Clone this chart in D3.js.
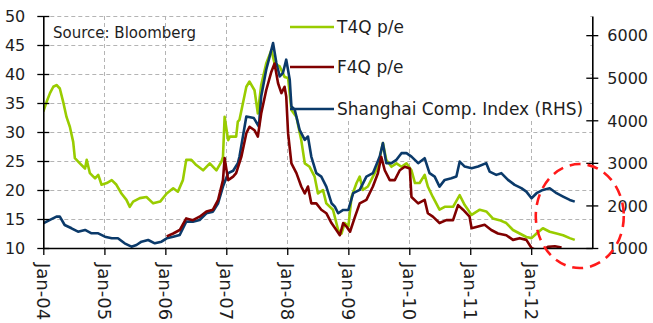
<!DOCTYPE html>
<html>
<head>
<meta charset="utf-8">
<script src="https://cdn.jsdelivr.net/npm/d3@7"></script>
<style>
  html, body { margin: 0; padding: 0; background: #fff; }
  svg { display: block; font-family: "DejaVu Sans", Verdana, sans-serif; }
</style>
</head>
<body>
<svg id="chart" width="653" height="323"></svg>
<script>
// ---------------- DATA ----------------
const leftTicks = [10, 15, 20, 25, 30, 35, 40, 45, 50];
const rightTicks = [1000, 2000, 3000, 4000, 5000, 6000];
const yearTicks = ["2004-01-01","2005-01-01","2006-01-01","2007-01-01","2008-01-01","2009-01-01","2010-01-01","2011-01-01","2012-01-01"];
const seriesNames = ["T4Q p/e", "F4Q p/e", "Shanghai Comp. Index (RHS)"];
const sourceNote = "Source: Bloomberg";

const t4qDates = ["2004-01-01","2004-01-21","2004-02-10","2004-03-01","2004-03-20","2004-04-09","2004-04-29","2004-05-19","2004-06-08","2004-06-28","2004-07-08","2004-08-07","2004-09-07","2004-09-17","2004-10-06","2004-11-06","2004-11-25","2004-12-15","2005-01-15","2005-02-14","2005-03-14","2005-04-13","2005-05-13","2005-06-02","2005-06-22","2005-08-01","2005-09-10","2005-10-20","2005-12-01","2006-01-09","2006-02-17","2006-03-17","2006-04-16","2006-05-06","2006-06-06","2006-07-05","2006-08-15","2006-09-24","2006-11-03","2006-12-03","2006-12-12","2006-12-22","2007-01-12","2007-01-22","2007-02-11","2007-03-01","2007-03-11","2007-03-21","2007-05-01","2007-05-20","2007-06-19","2007-07-09","2007-07-29","2007-08-28","2007-09-28","2007-10-17","2007-11-17","2007-12-16","2008-01-06","2008-01-26","2008-02-25","2008-03-25","2008-04-15","2008-05-14","2008-06-13","2008-07-03","2008-08-02","2008-08-22","2008-10-01","2008-11-01","2008-11-21","2008-12-10","2009-01-01","2009-01-20","2009-02-19","2009-03-10","2009-03-29","2009-04-28","2009-05-28","2009-06-27","2009-07-27","2009-08-16","2009-09-16","2009-10-16","2009-11-15","2009-12-15","2010-01-14","2010-02-04","2010-03-04","2010-04-03","2010-04-22","2010-05-22","2010-07-01","2010-08-01","2010-09-20","2010-10-30","2010-11-29","2011-01-09","2011-02-27","2011-04-07","2011-05-16","2011-06-25","2011-08-05","2011-09-14","2011-10-24","2011-12-03","2012-01-03","2012-02-02","2012-03-11","2012-04-21","2012-06-01","2012-07-10","2012-08-19","2012-09-18"];
const t4qValues = [33.5,35.2,36.7,37.8,38.1,37.5,35.2,32.6,30.9,28.3,25.5,24.6,23.7,25.2,22.9,22.0,22.6,20.9,21.2,21.7,20.9,19.4,18.3,17.1,18.0,18.6,18.8,17.7,18.0,19.4,20.3,19.7,21.7,25.2,25.2,24.3,23.4,24.6,23.4,24.9,25.7,32.6,28.6,29.2,29.2,29.2,31.8,32.1,37.8,38.7,37.2,33.2,38.1,41.8,44.1,41.8,41.3,39.5,39.3,33.8,32.6,28.6,24.6,24.0,22.3,19.4,20.0,17.7,16.6,13.1,12.5,14.3,13.7,18.8,21.2,22.3,20.0,20.6,22.3,24.0,28.1,25.2,24.0,24.6,24.0,24.6,23.4,21.2,21.2,22.6,20.6,18.8,16.6,17.1,17.1,19.1,17.4,15.7,16.6,16.3,15.1,14.8,14.3,13.1,12.5,11.9,11.7,12.5,13.4,12.8,12.5,12.2,11.7,11.4];

const f4qDates = ["2006-01-09","2006-02-17","2006-03-28","2006-05-06","2006-06-15","2006-07-25","2006-09-04","2006-10-13","2006-11-13","2006-12-12","2006-12-22","2007-01-12","2007-02-11","2007-03-01","2007-04-01","2007-05-01","2007-05-20","2007-06-19","2007-07-09","2007-07-29","2007-08-28","2007-09-28","2007-10-17","2007-11-07","2007-11-27","2007-12-16","2007-12-26","2008-01-06","2008-01-26","2008-02-25","2008-03-25","2008-04-15","2008-05-04","2008-05-24","2008-06-23","2008-07-23","2008-08-22","2008-09-22","2008-10-21","2008-11-11","2008-12-01","2008-12-21","2009-01-11","2009-02-10","2009-03-10","2009-04-19","2009-05-28","2009-06-27","2009-07-17","2009-08-07","2009-09-06","2009-10-06","2009-11-05","2009-12-05","2010-01-04","2010-01-14","2010-02-23","2010-04-03","2010-04-22","2010-05-22","2010-07-01","2010-08-11","2010-09-20","2010-10-20","2010-11-19","2010-12-28","2011-01-09","2011-02-17","2011-03-28","2011-05-07","2011-06-16","2011-08-05","2011-09-14","2011-10-24","2011-12-03","2012-01-03","2012-02-10","2012-03-22","2012-04-10","2012-05-22","2012-07-01"];
const f4qValues = [12.0,12.5,13.1,15.1,14.8,15.4,16.3,16.6,18.3,21.7,25.5,21.7,22.3,22.9,25.7,29.8,30.9,30.3,29.2,33.2,37.2,40.4,41.8,38.4,36.7,37.8,36.1,29.8,24.6,22.9,20.6,19.4,20.6,17.7,17.7,16.6,16.0,14.3,13.1,12.2,14.3,13.7,12.8,15.4,17.7,18.3,20.6,22.9,25.7,23.4,21.7,21.7,23.4,24.0,23.7,18.8,17.7,18.3,16.0,15.4,14.3,14.8,14.8,17.4,16.6,15.4,13.4,13.7,14.0,13.1,12.5,12.2,11.4,11.7,11.4,10.0,9.5,9.8,10.2,10.3,10.1];

const shDates = ["2004-01-01","2004-02-10","2004-03-20","2004-04-09","2004-05-08","2004-06-18","2004-07-27","2004-09-07","2004-10-16","2004-11-25","2005-01-04","2005-02-14","2005-03-23","2005-05-02","2005-06-12","2005-07-12","2005-08-11","2005-09-20","2005-10-30","2005-12-09","2006-01-09","2006-02-17","2006-03-28","2006-05-06","2006-06-15","2006-07-25","2006-09-04","2006-10-13","2006-11-13","2006-12-12","2007-01-12","2007-02-11","2007-03-11","2007-03-21","2007-05-01","2007-06-15","2007-07-15","2007-07-29","2007-08-28","2007-09-18","2007-10-08","2007-10-28","2007-11-17","2007-12-06","2007-12-26","2008-01-16","2008-01-26","2008-02-15","2008-03-15","2008-04-15","2008-05-04","2008-05-24","2008-06-23","2008-07-23","2008-08-22","2008-09-22","2008-10-12","2008-11-01","2008-12-01","2009-01-01","2009-01-30","2009-03-10","2009-04-19","2009-05-28","2009-07-08","2009-07-27","2009-08-16","2009-09-16","2009-10-16","2009-11-15","2009-12-15","2010-01-14","2010-02-14","2010-02-23","2010-04-03","2010-05-02","2010-06-02","2010-07-01","2010-08-01","2010-09-10","2010-10-10","2010-10-30","2010-11-29","2011-01-09","2011-02-17","2011-04-07","2011-04-27","2011-06-06","2011-07-06","2011-08-15","2011-09-24","2011-11-03","2011-12-03","2012-01-03","2012-02-02","2012-03-11","2012-04-21","2012-06-01","2012-07-10","2012-08-19","2012-09-18"];
const shValues = [1581,1659,1736,1736,1541,1463,1384,1424,1345,1345,1266,1228,1228,1110,1031,1071,1148,1188,1110,1148,1228,1266,1306,1619,1619,1659,1816,1854,2052,2442,2758,2815,2990,3148,4089,4052,3854,4560,5188,5501,5816,5346,5031,5110,5424,4953,4325,4247,3776,3541,3619,3148,2758,2678,2442,2052,1972,1816,1894,1894,2287,2365,2678,2758,3148,3464,2993,2993,3071,3228,3228,3148,3030,2993,3110,2758,2678,2442,2600,2640,2678,3030,2913,2875,2913,2993,2795,2718,2758,2600,2482,2405,2325,2169,2287,2365,2405,2287,2207,2129,2089];

// annotation (highlight ellipse) anchored in data space
const highlightDate = "2012-10-18";
const highlightRhs = 1750;

// ---------------- LAYOUT ----------------
const W = 653, H = 323;
const plot = { left: 43.3, right: 592.3, top: 16, bottom: 248 };
const colors = { t4q: "#99cc00", f4q: "#800000", sh: "#0b3a6a", grid: "#b4b4b4", text: "#1e1e1e" };

const parse = d3.timeParse("%Y-%m-%d");
const svg = d3.select("#chart");

const x = d3.scaleTime()
  .domain([parse("2004-01-01"), parse("2013-01-01")])
  .range([plot.left, plot.right]);
const yL = d3.scaleLinear().domain([10, 50]).range([plot.bottom, plot.top]);
const yR = d3.scaleLinear().domain([1000, 6450]).range([plot.bottom, plot.top]);

svg.append("defs").append("clipPath").attr("id", "plotClip")
  .append("rect")
  .attr("x", plot.left).attr("y", plot.top - 4)
  .attr("width", plot.right - plot.left).attr("height", plot.bottom - plot.top + 4);

// Gridlines
const grid = svg.append("g").attr("stroke", colors.grid).attr("stroke-width", 1).attr("stroke-dasharray", "4,3");
grid.selectAll("line.h").data(leftTicks.filter(d => d > 10)).join("line")
  .attr("x1", plot.left).attr("x2", plot.right)
  .attr("y1", d => Math.round(yL(d)) + 0.5).attr("y2", d => Math.round(yL(d)) + 0.5);
grid.selectAll("line.v").data(yearTicks.slice(1)).join("line")
  .attr("x1", d => Math.round(x(parse(d))) + 0.5).attr("x2", d => Math.round(x(parse(d))) + 0.5)
  .attr("y1", plot.top).attr("y2", plot.bottom);

// Legend background (covers gridlines)
svg.append("rect")
  .attr("x", 264).attr("y", plot.top - 2)
  .attr("width", plot.right - 2 - 264).attr("height", 106)
  .attr("fill", "#fff");

// Lines
const lineL = d3.line().x(d => x(d.date)).y(d => yL(d.v));
const lineR = d3.line().x(d => x(d.date)).y(d => yR(d.v));
const mk = (dates, vals) => dates.map((d, i) => ({ date: parse(d), v: vals[i] }));

const lines = svg.append("g").attr("clip-path", "url(#plotClip)")
  .attr("fill", "none").attr("stroke-width", 2.6).attr("stroke-linejoin", "round");
lines.append("path").datum(mk(t4qDates, t4qValues)).attr("d", lineL).attr("stroke", colors.t4q);
lines.append("path").datum(mk(shDates, shValues)).attr("d", lineR).attr("stroke", colors.sh);
lines.append("path").datum(mk(f4qDates, f4qValues)).attr("d", lineL).attr("stroke", colors.f4q);

// Axes
const axisStyle = g => {
  g.selectAll("path.domain").attr("stroke", "#000").attr("stroke-width", 1.6);
  g.selectAll(".tick line").attr("stroke", "#000").attr("stroke-width", 1.3);
  g.selectAll(".tick text").attr("fill", colors.text).attr("font-family", "DejaVu Sans, Verdana, sans-serif");
};

const gL = svg.append("g").attr("transform", `translate(${plot.left},0)`)
  .call(d3.axisLeft(yL).tickValues(leftTicks).tickSize(6).tickSizeOuter(0).tickPadding(12).tickFormat(d3.format("d")));
gL.selectAll(".tick line").attr("x1", 6);
gL.selectAll(".tick text").attr("font-size", 16).attr("dy", "0.36em");
axisStyle(gL);

const gR = svg.append("g").attr("transform", `translate(${plot.right},0)`)
  .call(d3.axisRight(yR).tickValues(rightTicks).tickSize(6).tickSizeOuter(0).tickPadding(9).tickFormat(d3.format("d")));
gR.selectAll(".tick line").attr("x1", -6);
gR.selectAll(".tick text").attr("font-size", 16).attr("dy", "0.36em");
axisStyle(gR);

const gX = svg.append("g").attr("transform", `translate(0,${plot.bottom})`)
  .call(d3.axisBottom(x).tickValues(yearTicks.map(parse)).tickSize(7).tickSizeOuter(0).tickFormat(d3.timeFormat("%b-%y")));
gX.selectAll(".tick text")
  .attr("font-size", 18)
  .attr("transform", "rotate(90)")
  .attr("x", 15).attr("y", 0).attr("dy", "0.36em")
  .attr("text-anchor", "start");
axisStyle(gX);

// Source note
svg.append("text").attr("x", 53).attr("y", 38)
  .attr("font-size", 15).attr("fill", colors.text).text(sourceNote);

// Legend
const legendItems = [
  { name: seriesNames[0], color: colors.t4q, y: 27 },
  { name: seriesNames[1], color: colors.f4q, y: 67 },
  { name: seriesNames[2], color: colors.sh, y: 109 }
];
const lg = svg.append("g");
lg.selectAll("line").data(legendItems).join("line")
  .attr("x1", 290).attr("x2", 334)
  .attr("y1", d => d.y).attr("y2", d => d.y)
  .attr("stroke", d => d.color).attr("stroke-width", 2.6);
lg.selectAll("text").data(legendItems).join("text")
  .attr("x", 337).attr("y", d => d.y).attr("dy", "0.36em")
  .attr("font-size", 17).attr("fill", colors.text)
  .text(d => d.name);

// Highlight ellipse
svg.append("ellipse")
  .attr("cx", x(parse(highlightDate))).attr("cy", yR(highlightRhs))
  .attr("rx", 44).attr("ry", 52)
  .attr("fill", "none").attr("stroke", "#ff1a1a")
  .attr("stroke-width", 2.6).attr("stroke-dasharray", "11,7");
</script>
</body>
</html>
